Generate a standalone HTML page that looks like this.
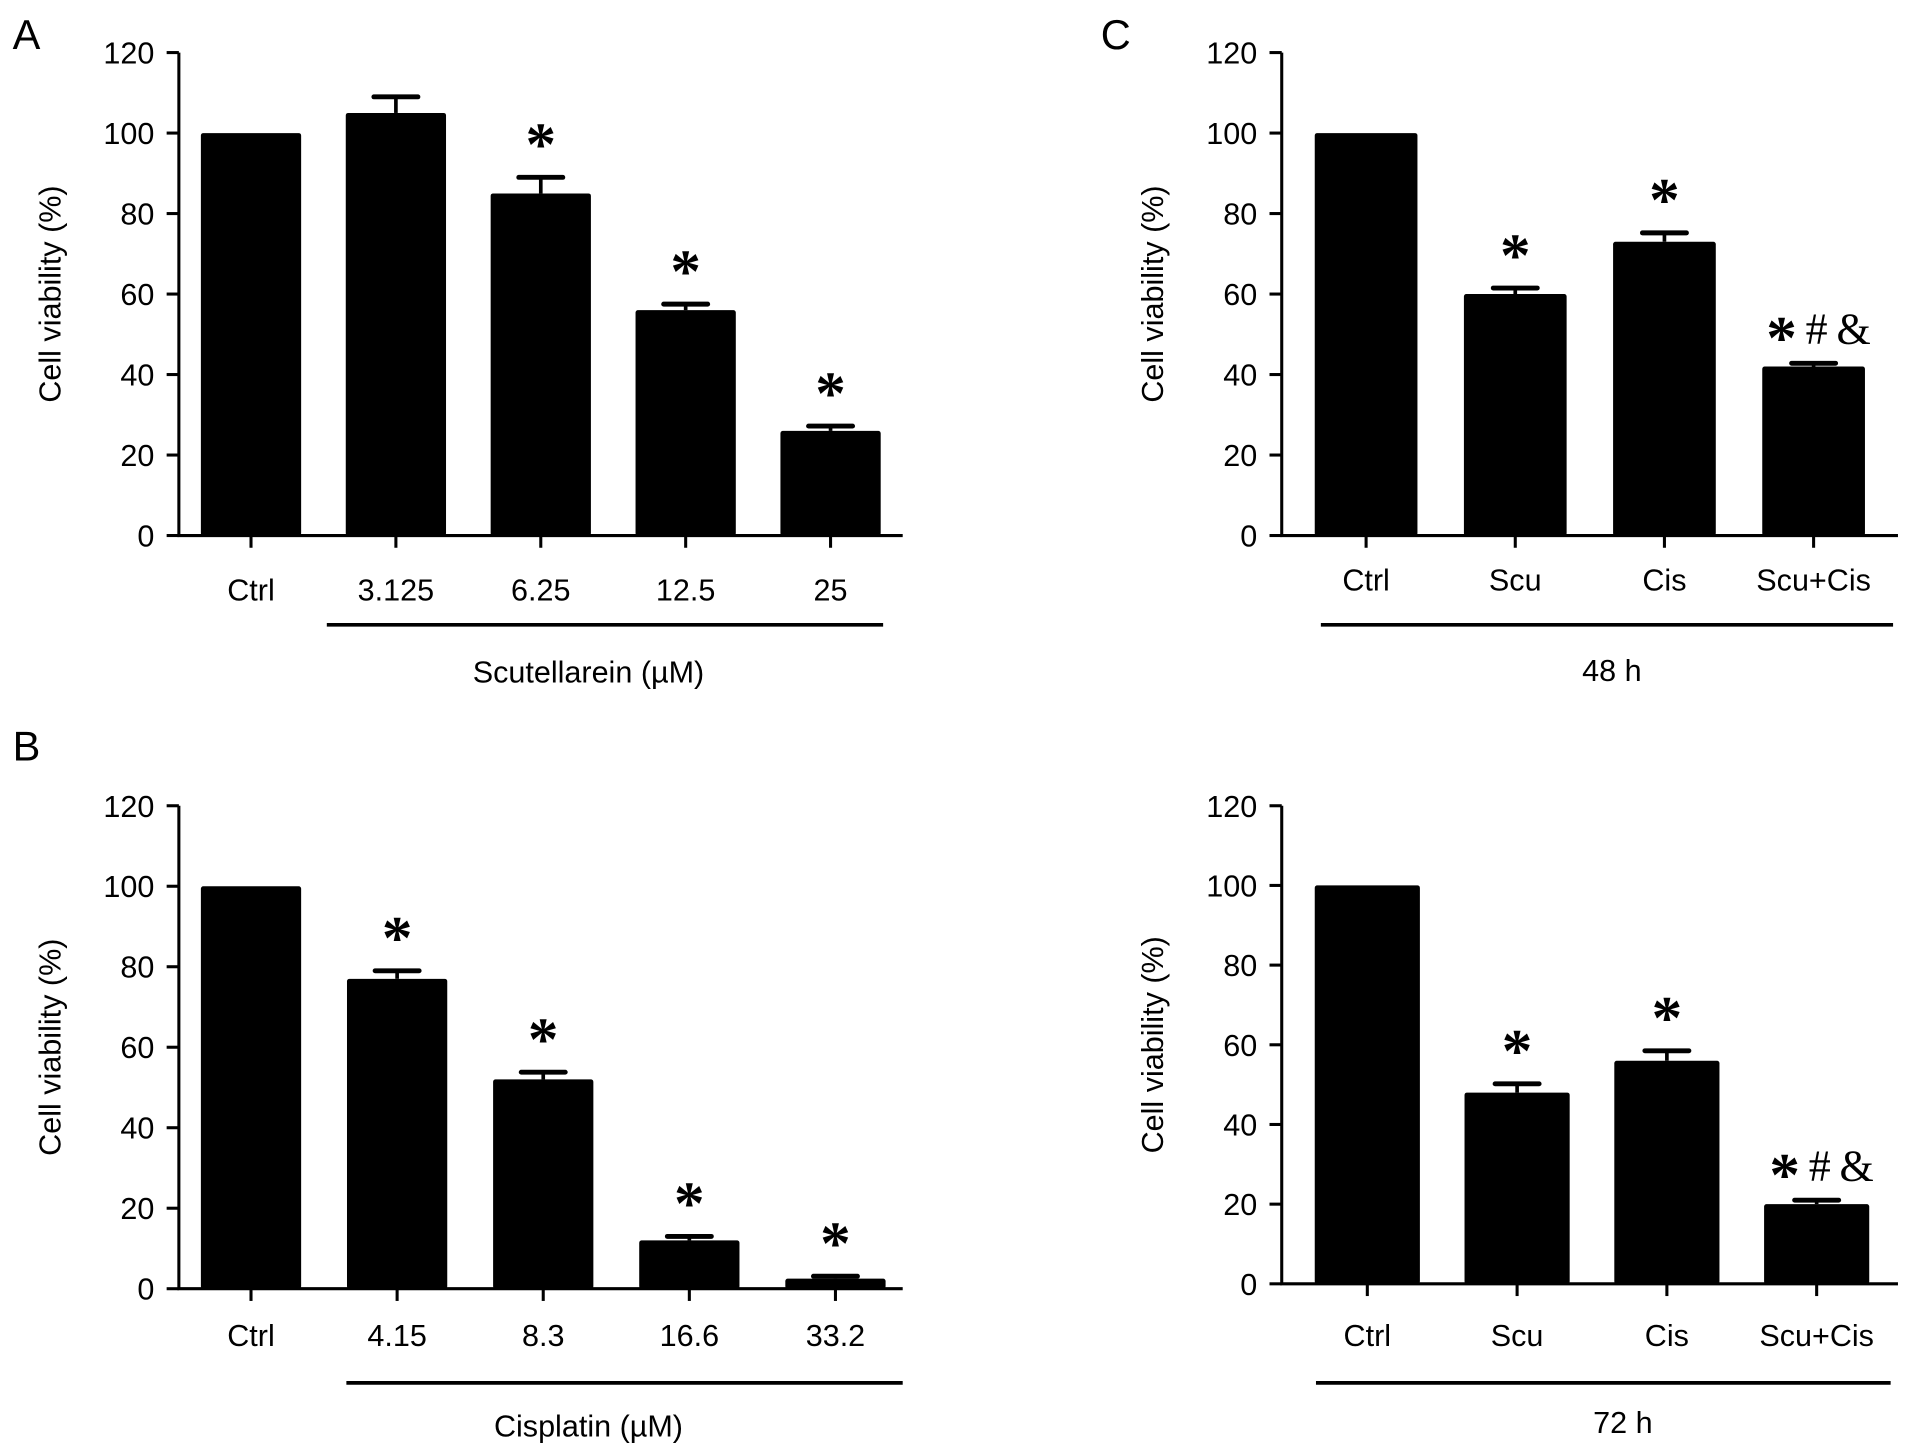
<!DOCTYPE html>
<html><head><meta charset="utf-8"><style>
html,body{margin:0;padding:0;background:#fff;width:1913px;height:1455px;overflow:hidden}
svg{display:block}
text{font-family:"Liberation Sans",Arial,sans-serif;fill:#000}
.ann{font-family:"Liberation Serif",serif}
</style></head><body>
<svg id="fig" width="1913" height="1455" viewBox="0 0 1564 1190" xmlns="http://www.w3.org/2000/svg"></svg>
<script>
// Panel A data
const catsA = ["Ctrl","3.125","6.25","12.5","25"];
const valsA = [100,105,85,56,26];
const errA = [0,4,4,1.5,1.2];
const annA = ["","","*","*","*"];
// Panel B data
const catsB = ["Ctrl","4.15","8.3","16.6","33.2"];
const valsB = [100,77,52,12,2.5];
const errB = [0,2,1.8,1,0.6];
const annB = ["","*","*","*","*"];
// Panel C 48h
const catsC = ["Ctrl","Scu","Cis","Scu+Cis"];
const valsC1 = [100,60,73,42];
const errC1 = [0,1.5,2.2,0.8];
const annC1 = ["","*","*","* # &"];
// Panel C 72h
const valsC2 = [100,48,56,20];
const errC2 = [0,2.2,2.5,1];
const annC2 = ["","*","*","* # &"];
const yTicks = [0,20,40,60,80,100,120];

const svg = document.getElementById('fig');
const NS = "http://www.w3.org/2000/svg";
function el(tag, attrs, parent){const e=document.createElementNS(NS,tag);for(const k in attrs)e.setAttribute(k,attrs[k]);(parent||svg).appendChild(e);return e;}

function panel(o){
  const g = el('g',{});
  
  
  const y = v => o.y0 - (o.y0 - o.y120) * v / 120;
  const ax = el('path',{d:`M${o.ax} ${o.y120} V${o.y0} H${o.xend}`,stroke:'#000','stroke-width':2.5,fill:'none'},g);
  
  
  yTicks.forEach(t=>{
    el('line',{x1:o.ax-10,x2:o.ax,y1:y(t),y2:y(t),stroke:'#000','stroke-width':2.5},g);
    const tx = el('text',{x:o.ax-20,y:y(t)+9,'text-anchor':'end','font-size':25},g);
    tx.textContent = t;
    
    
  });
  const yl = el('text',{transform:`translate(${o.ax-97},${(o.y0+o.y120)/2}) rotate(-90)`,'text-anchor':'middle','font-size':25},g);
  yl.textContent = 'Cell viability (%)';
  
  
  o.cats.forEach((c,i)=>{
    const cx = o.c0 + i*o.step, w = o.bw;
    const b = el('rect',{x:cx-w/2,y:y(o.vals[i]),width:w,height:o.y0-y(o.vals[i]),fill:'#000',rx:2},g);
    
    
    if(o.err[i]>0){
      const top = y(o.vals[i]+o.err[i]);
      el('line',{x1:cx,x2:cx,y1:top,y2:y(o.vals[i]),stroke:'#000','stroke-width':3},g);
      el('line',{x1:cx-18,x2:cx+18,y1:top,y2:top,stroke:'#000','stroke-width':4,'stroke-linecap':'round'},g);
    }
    el('line',{x1:cx,x2:cx,y1:o.y0,y2:o.y0+10,stroke:'#000','stroke-width':2.5},g);
    const lb = el('text',{x:cx,y:o.labY,'text-anchor':'middle','font-size':25},g);
    lb.textContent = c;
    
    
    if(o.ann[i]){
      const top = y(o.vals[i]+o.err[i]);
      const multi = o.ann[i].length>1;
      const a = el('text',{class:'ann',x:cx+(multi?4:0),y:multi?top-16:top-10,'text-anchor':'middle','font-size':multi?36:50,'font-weight':'bold'},g);
      if(multi){
        const s1 = el('tspan',{'font-size':50,dy:12},a); s1.textContent='*';
        const s2 = el('tspan',{dy:-12,'font-weight':'normal'},a); s2.textContent='\u2009#\u2009&';
      } else a.textContent = o.ann[i];
      
      
    }
  });
  const ul = el('line',{x1:o.ul[0],x2:o.ul[1],y1:o.ulY,y2:o.ulY,stroke:'#000','stroke-width':3},g);
  
  
  const xt = el('text',{x:o.xtX,y:o.xtY,'text-anchor':'middle','font-size':25},g);
  xt.textContent = o.xtitle;
  
  
  if(o.letter){
    const L = el('text',{x:o.lx,y:o.ly,'font-size':34},g);
    L.textContent = o.letter;
    
    
  }
}
panel({name:'panel-a',ax:146,y120:43,y0:438,xend:738,cats:catsA,vals:valsA,err:errA,ann:annA,c0:205,step:118.5,bw:82,labY:491,ul:[267,722],ulY:511,xtitle:'Scutellarein (\u00b5M)',xtX:481,xtY:558,letter:'A',lx:10,ly:40});
panel({name:'panel-b',ax:146,y120:659,y0:1054,xend:738,cats:catsB,vals:valsB,err:errB,ann:annB,c0:205,step:119.5,bw:82,labY:1101,ul:[283,738],ulY:1131,xtitle:'Cisplatin (\u00b5M)',xtX:481,xtY:1175,letter:'B',lx:10,ly:622});
panel({name:'panel-c-48h',ax:1048,y120:43,y0:438,xend:1552,cats:catsC,vals:valsC1,err:errC1,ann:annC1,c0:1117,step:122,bw:84,labY:483,ul:[1080,1548],ulY:511,xtitle:'48 h',xtX:1318,xtY:557,letter:'C',lx:900,ly:40});
panel({name:'panel-c-72h',ax:1048,y120:659,y0:1050,xend:1552,cats:catsC,vals:valsC2,err:errC2,ann:annC2,c0:1118,step:122.5,bw:86,labY:1101,ul:[1076,1546],ulY:1131,xtitle:'72 h',xtX:1327,xtY:1172});
</script>
</body></html>
